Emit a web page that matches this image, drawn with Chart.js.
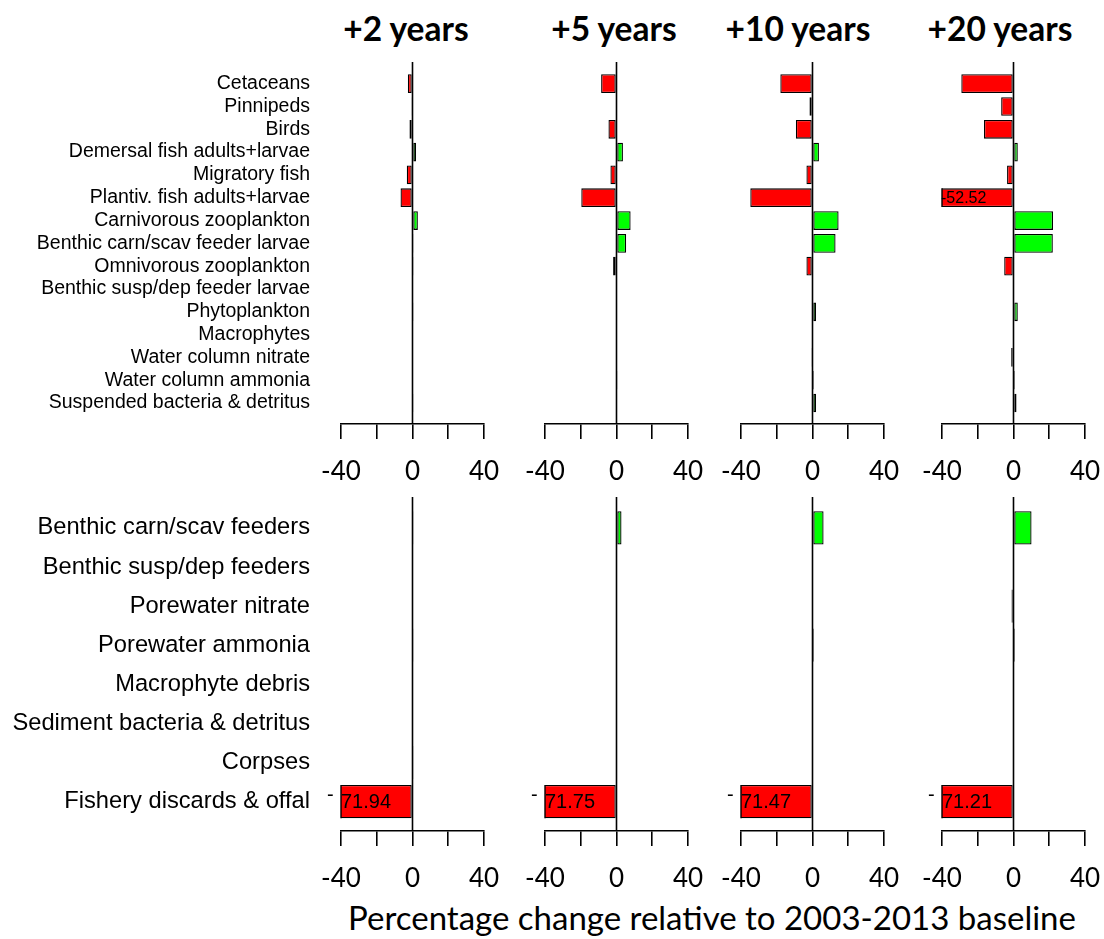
<!DOCTYPE html>
<html>
<head>
<meta charset="utf-8">
<script src="https://cdn.jsdelivr.net/npm/chart.js@4.4.1/dist/chart.umd.min.js"></script>
<style>
    body { margin: 0; background: #fff; width: 1104px; height: 939px; position: relative; overflow: hidden; }
    canvas { position: absolute; }
    .ptitle { position: absolute; top: 8px; line-height: 40px; font: bold 33.5px Lato, sans-serif; transform: translateX(-50%); white-space: nowrap; color: #000; }
    #xtitle { position: absolute; top: 897px; left: 712px; line-height: 40px; transform: translateX(-50%); font: 33px Lato, sans-serif; white-space: nowrap; color: #000; }
</style>
</head>
<body>
<div id="xtitle">Percentage change relative to 2003-2013 baseline</div>
<script>
// ---- data ----
const panelTitles = ['+2 years', '+5 years', '+10 years', '+20 years'];

const topCategories = ['Cetaceans', 'Pinnipeds', 'Birds', 'Demersal fish adults+larvae', 'Migratory fish',
    'Plantiv. fish adults+larvae', 'Carnivorous zooplankton', 'Benthic carn/scav feeder larvae',
    'Omnivorous zooplankton', 'Benthic susp/dep feeder larvae', 'Phytoplankton', 'Macrophytes',
    'Water column nitrate', 'Water column ammonia', 'Suspended bacteria & detritus'];
const top2  = [-2.6, -0.3, -1.7, 2.0, -3.2, -6.7, 3.0, 0.2, 0.1, 0, 0.1, 0, 0, 0, 0.1];
const top5  = [-8.6, -0.5, -4.5, 3.6, -3.4, -19.7, 7.9, 5.4, -1.9, 0, 0.5, 0, 0, 0.1, 0.5];
const top10 = [-18.0, -1.7, -9.3, 3.6, -3.4, -34.8, 14.6, 12.9, -3.4, 0, 2.0, 0, -0.2, 0.8, 2.0];
const top20 = [-29.2, -6.9, -16.5, 2.4, -3.6, -52.52, 22.1, 22.0, -5.2, 0, 2.4, 0, -1.3, 0.8, 1.7];

const bottomCategories = ['Benthic carn/scav feeders', 'Benthic susp/dep feeders', 'Porewater nitrate',
    'Porewater ammonia', 'Macrophyte debris', 'Sediment bacteria & detritus', 'Corpses',
    'Fishery discards & offal'];
const bot2  = [0.2, 0, 0, 0.1, 0, 0, 0.1, -71.94];
const bot5  = [2.8, 0, 0, 0.5, 0, 0, 0.5, -71.75];
const bot10 = [6.2, 0, 0, 0.8, 0, 0, 0.5, -71.47];
const bot20 = [10.1, 0, -1.1, 0.8, 0, 0, 0.5, -71.21];

const xMin = -40, xMax = 40, xStep = 20;
const xLabelled = [-40, 0, 40];

// ---- layout ----
const panelLeft = [341, 545, 741, 942];
const plotWidth = 143;
const sidePad = 50;

const rows = {
    top: { canvasTop: 0, canvasHeight: 500, padTop: 62, axisHeight: 76, yMin: -0.95, yMax: 14.92,
           barPct: 0.82, labelSize: 19.5, valueSize: 16, cats: topCategories,
           series: [top2, top5, top10, top20] },
    bottom: { canvasTop: 420, canvasHeight: 480, padTop: 77, axisHeight: 69, yMin: -0.79, yMax: 7.75,
              barPct: 0.85, labelSize: 23.7, valueSize: 20, cats: bottomCategories,
              series: [bot2, bot5, bot10, bot20] }
};

// zero line from top of plot down to axis
const zeroLine = {
    id: 'zeroLine',
    beforeDatasetsDraw(chart) {
        const { ctx, chartArea } = chart;
        const x = chart.scales.x.getPixelForValue(0);
        ctx.save();
        ctx.strokeStyle = '#000';
        ctx.lineWidth = 1.6;
        ctx.beginPath();
        ctx.moveTo(x, chartArea.top);
        ctx.lineTo(x, chartArea.bottom);
        ctx.stroke();
        ctx.restore();
    }
};

// bars running past -40 get their value written inside
const clippedLabels = {
    id: 'clippedLabels',
    afterDatasetsDraw(chart) {
        const { ctx, chartArea } = chart;
        const meta = chart.getDatasetMeta(0);
        const vals = chart.data.datasets[0].data;
        const size = chart.options.plugins.clippedLabels.size;
        const split = chart.options.plugins.clippedLabels.split;
        ctx.save();
        meta.data.forEach((bar, i) => {
            const v = vals[i].x;
            if (v >= xMin) return;
            const h = bar.height;
            ctx.strokeStyle = '#000';
            ctx.lineWidth = 1.4;
            ctx.beginPath();
            ctx.moveTo(chartArea.left, bar.y - h / 2);
            ctx.lineTo(chartArea.left, bar.y + h / 2);
            ctx.stroke();
            ctx.fillStyle = '#000';
            ctx.font = size + 'px "Liberation Sans", Arial, sans-serif';
            ctx.textBaseline = 'middle';
            ctx.textAlign = 'left';
            const txt = v.toFixed(2);
            if (split) {
                ctx.fillText('-', chartArea.left - 14, bar.y - 6);
                ctx.fillText(txt.slice(1), chartArea.left, bar.y + 1);
            } else {
                ctx.fillText(txt, chartArea.left - 1, bar.y + 1);
            }
        });
        ctx.restore();
    }
};

function makePanel(rowKey, col) {
    const row = rows[rowKey];
    const values = row.series[col];
    const first = col === 0;
    const canvas = document.createElement('canvas');
    const left = first ? 0 : panelLeft[col] - sidePad;
    const width = first ? panelLeft[0] + plotWidth + sidePad : plotWidth + 2 * sidePad;
    canvas.width = width;
    canvas.height = row.canvasHeight;
    canvas.style.left = left + 'px';
    canvas.style.top = row.canvasTop + 'px';
    canvas.style.width = width + 'px';
    canvas.style.height = row.canvasHeight + 'px';
    document.body.appendChild(canvas);

    new Chart(canvas, {
        type: 'bar',
        data: {
            datasets: [{
                data: values.map((v, i) => ({ x: v, y: i })),
                backgroundColor: c => values[c.dataIndex] < 0 ? '#ff0000' : '#00ff00',
                borderColor: '#000',
                borderWidth: 1.3,
                borderSkipped: false,
                barPercentage: row.barPct,
                categoryPercentage: 1
            }]
        },
        options: {
            indexAxis: 'y',
            responsive: false,
            animation: false,
            devicePixelRatio: 1,
            events: [],
            layout: { padding: { top: row.padTop, bottom: 0, left: first ? 0 : sidePad, right: sidePad } },
            plugins: {
                legend: { display: false },
                tooltip: { enabled: false },
                clippedLabels: { size: row.valueSize, split: rowKey === 'bottom' }
            },
            scales: {
                x: {
                    type: 'linear',
                    min: xMin,
                    max: xMax,
                    afterBuildTicks: s => { s.ticks = []; for (let v = xMin; v <= xMax; v += xStep) s.ticks.push({ value: v }); },
                    afterFit: s => { s.height = row.axisHeight; },
                    ticks: {
                        callback: v => xLabelled.includes(v) ? String(v) : '',
                        font: { family: 'Lato', size: 26 },
                        color: '#000',
                        padding: 17,
                        maxRotation: 0,
                        autoSkip: false
                    },
                    grid: { drawOnChartArea: false, drawTicks: true, tickLength: 15, color: '#000', lineWidth: 1.6 },
                    border: { display: true, color: '#000', width: 1.6 }
                },
                y: {
                    type: 'linear',
                    reverse: true,
                    offset: false,
                    bounds: 'data',
                    min: row.yMin,
                    max: row.yMax,
                    display: first,
                    afterBuildTicks: s => { s.ticks = row.cats.map((_, i) => ({ value: i })); },
                    afterFit: s => { s.width = first ? panelLeft[0] : 0; },
                    ticks: {
                        callback: v => row.cats[v],
                        font: { family: 'Liberation Sans', size: row.labelSize },
                        color: '#000',
                        padding: 31,
                        autoSkip: false
                    },
                    grid: { display: false, drawTicks: false, offset: false },
                    border: { display: false }
                }
            }
        },
        plugins: [zeroLine, clippedLabels]
    });
}

// panel titles
const titleCenters = [406, 614, 798, 1000];
panelTitles.forEach((t, i) => {
    const d = document.createElement('div');
    d.className = 'ptitle';
    d.style.left = titleCenters[i] + 'px';
    d.textContent = t;
    document.body.appendChild(d);
});

['top', 'bottom'].forEach(r => {
    for (let c = 0; c < 4; c++) makePanel(r, c);
});
</script>
</body>
</html>
